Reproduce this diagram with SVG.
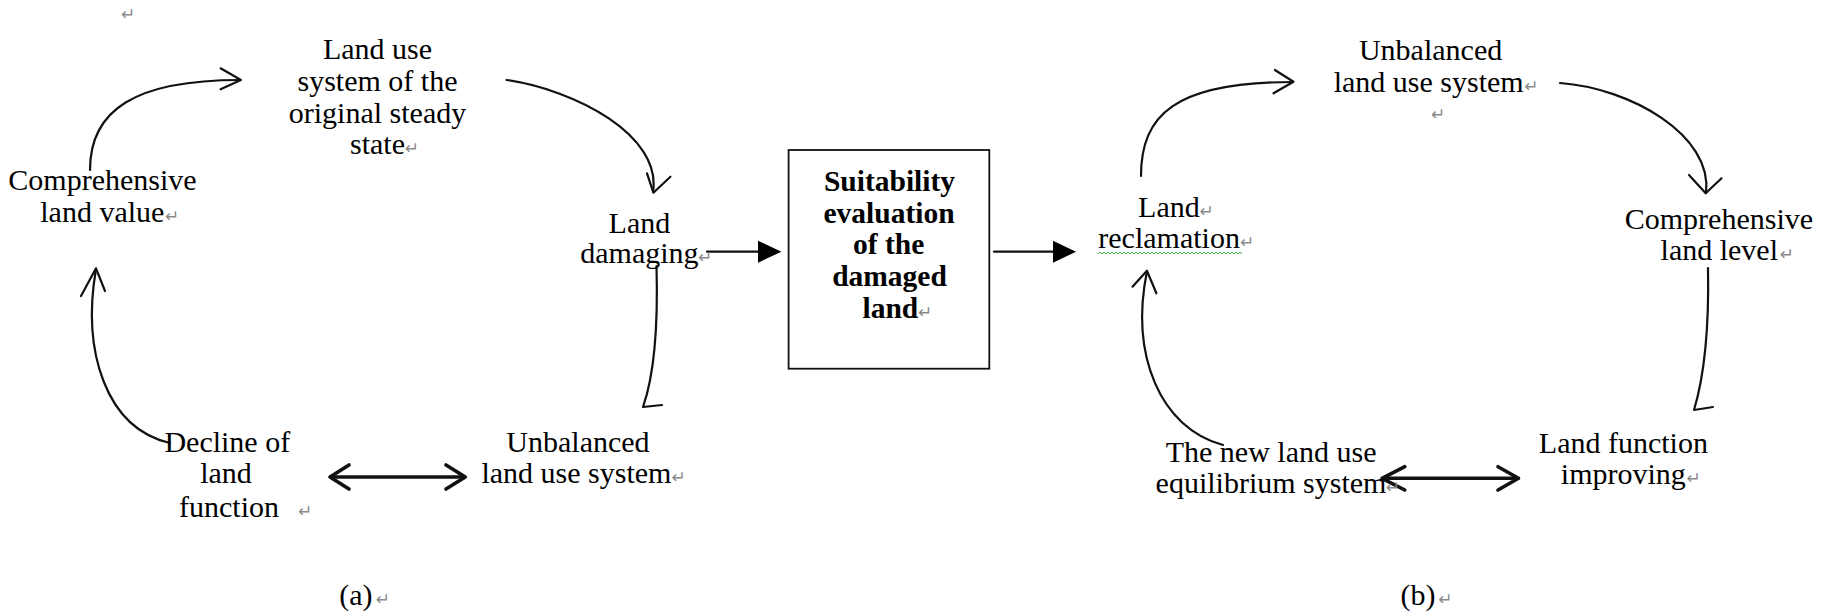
<svg xmlns="http://www.w3.org/2000/svg" width="1829" height="616" viewBox="0 0 1829 616">
<style>
text{font-family:"Liberation Serif","Times New Roman",serif;font-size:30px;fill:#000;text-anchor:middle}
text.b{font-weight:bold;font-size:29.5px}
text.pm{font-family:"DejaVu Sans",sans-serif;font-size:17px;fill:#8a8a8a;text-anchor:start}
.ln{fill:none;stroke:#111;stroke-width:2.2;stroke-linecap:round;stroke-linejoin:round}
.dbl{fill:none;stroke:#111;stroke-width:3.6;stroke-linecap:round;stroke-linejoin:round}
.tri{fill:#000;stroke:none}
.box{fill:#fff;stroke:#111;stroke-width:1.8}
.wavy{fill:none;stroke:#3aa53a;stroke-width:1}
</style>
<rect width="1829" height="616" fill="#fff"/>

<g id="connectors">
  <!-- (a) top-left arc -->
  <path class="ln" d="M90,170 C90,110 135,80 240,80"/>
  <path class="ln" d="M220.6,68.3 L240.9,80 L220.6,89.3"/>
  <!-- (a) top-right arc -->
  <path class="ln" d="M506.5,80 C575,90 662,135 653,192"/>
  <path class="ln" d="M647,173.3 L653.4,192.7 L670.4,176.7"/>
  <!-- (a) right vertical with hook -->
  <path class="ln" d="M656.5,266 C658,320 656,370 643,407 L662,405"/>
  <!-- (a) left-bottom arc -->
  <path class="ln" d="M170,443 C105,428 82,350 96,269"/>
  <path class="ln" d="M81,296 L96,268.3 L105,291"/>
  <!-- (a) double arrow -->
  <path class="dbl" d="M331,477 L464,477"/>
  <path class="dbl" d="M349,465 L330,477 L349,489"/>
  <path class="dbl" d="M446,465 L465.3,477 L446,489"/>
  <!-- damaging -> box -->
  <path class="ln" d="M707,251.7 L760,251.7"/>
  <polygon class="tri" points="758,240.7 781.4,251.7 758,262.7"/>
  <!-- box -> reclamation -->
  <path class="ln" d="M994,251.7 L1055,251.7"/>
  <polygon class="tri" points="1053,240.7 1076,251.7 1053,262.7"/>
  <!-- (b) top-left arc -->
  <path class="ln" d="M1141,176 C1141,115 1175,82 1293,82"/>
  <path class="ln" d="M1274.9,70 L1293.5,81.7 L1273.5,93.3"/>
  <!-- (b) top-right arc -->
  <path class="ln" d="M1560,83 C1630,88 1713,135 1706,193"/>
  <path class="ln" d="M1689,175 L1705.7,193.3 L1721.5,178.3"/>
  <!-- (b) right vertical with hook -->
  <path class="ln" d="M1708,268 C1709,320 1706,370 1694,410 L1713,407"/>
  <!-- (b) left-bottom arc -->
  <path class="ln" d="M1223,445 C1160,428 1130,355 1147,271"/>
  <path class="ln" d="M1132.5,286.7 L1146.9,270.7 L1156.4,293.3"/>
  <!-- (b) double arrow -->
  <path class="dbl" d="M1383,478.3 L1517,478.3"/>
  <path class="dbl" d="M1404.8,466.7 L1382,478.3 L1404.8,490"/>
  <path class="dbl" d="M1498,466.7 L1518.5,478.3 L1498,490"/>
</g>

<text class="pm" x="121" y="20">↵</text>

<g id="node-original">
  <text x="377.5" y="59.3">Land use</text>
  <text x="377.5" y="90.7">system of the</text>
  <text x="377.5" y="122.7">original steady</text>
  <text x="377.5" y="154">state</text>
  <text class="pm" x="404.7" y="154">↵</text>
</g>

<g id="node-comprehensive-value">
  <text x="102.5" y="190">Comprehensive</text>
  <text x="102.3" y="221.7">land value</text>
  <text class="pm" x="165" y="221.7">↵</text>
</g>

<g id="node-damaging">
  <text x="639.4" y="233.3">Land</text>
  <text x="639.4" y="263.3">damaging</text>
  <text class="pm" x="698" y="263.3">↵</text>
</g>

<g id="node-decline">
  <text x="227.3" y="451.7">Decline of</text>
  <text x="226" y="483.3">land</text>
  <text x="229" y="516.7">function</text>
  <text class="pm" x="298" y="516.7">↵</text>
</g>

<g id="node-unbalanced-a">
  <text x="578" y="451.7">Unbalanced</text>
  <text x="576.4" y="483.3">land use system</text>
  <text class="pm" x="671.4" y="483.3">↵</text>
</g>

<g id="node-suitability">
  <rect class="box" x="788.6" y="150" width="200.7" height="218.7"/>
  <text class="b" x="889.5" y="191">Suitability</text>
  <text class="b" x="889.1" y="222.7">evaluation</text>
  <text class="b" x="888.6" y="254">of the</text>
  <text class="b" x="889.5" y="286">damaged</text>
  <text class="b" x="890.4" y="318.3">land</text>
  <text class="pm" x="918" y="318.3">↵</text>
</g>

<g id="node-unbalanced-b">
  <text x="1430.6" y="60">Unbalanced</text>
  <text x="1428.7" y="91.7">land use system</text>
  <text class="pm" x="1524.2" y="91.7">↵</text>
  <text class="pm" x="1431" y="120">↵</text>
</g>

<g id="node-reclamation">
  <text x="1168.9" y="216.7">Land</text>
  <text class="pm" x="1199.4" y="216.7">↵</text>
  <text x="1169.1" y="248.3">reclamation</text>
  <text class="pm" x="1240" y="248.3">↵</text>
  <polyline class="wavy" points="1098,254 1100,252 1102,254 1104,252 1106,254 1108,252 1110,254 1112,252 1114,254 1116,252 1118,254 1120,252 1122,254 1124,252 1126,254 1128,252 1130,254 1132,252 1134,254 1136,252 1138,254 1140,252 1142,254 1144,252 1146,254 1148,252 1150,254 1152,252 1154,254 1156,252 1158,254 1160,252 1162,254 1164,252 1166,254 1168,252 1170,254 1172,252 1174,254 1176,252 1178,254 1180,252 1182,254 1184,252 1186,254 1188,252 1190,254 1192,252 1194,254 1196,252 1198,254 1200,252 1202,254 1204,252 1206,254 1208,252 1210,254 1212,252 1214,254 1216,252 1218,254 1220,252 1222,254 1224,252 1226,254 1228,252 1230,254 1232,252 1234,254 1236,252 1238,254 1240,252 1242,254"/>
</g>

<g id="node-comprehensive-level">
  <text x="1718.9" y="229.3">Comprehensive</text>
  <text x="1719.3" y="260">land level</text>
  <text class="pm" x="1779.8" y="260">↵</text>
</g>

<g id="node-new-equilibrium">
  <text x="1271.1" y="461.7">The new land use</text>
  <text x="1271" y="493.3">equilibrium system</text>
  <text class="pm" x="1385.7" y="493.3">↵</text>
</g>

<g id="node-function-improving">
  <text x="1623.4" y="453.3">Land function</text>
  <text x="1623.3" y="484">improving</text>
  <text class="pm" x="1686.6" y="484">↵</text>
</g>

<g id="label-a">
  <text x="355.8" y="605">(a)</text>
  <text class="pm" x="375.7" y="605">↵</text>
</g>
<g id="label-b">
  <text x="1418" y="605">(b)</text>
  <text class="pm" x="1438.3" y="605">↵</text>
</g>
</svg>
